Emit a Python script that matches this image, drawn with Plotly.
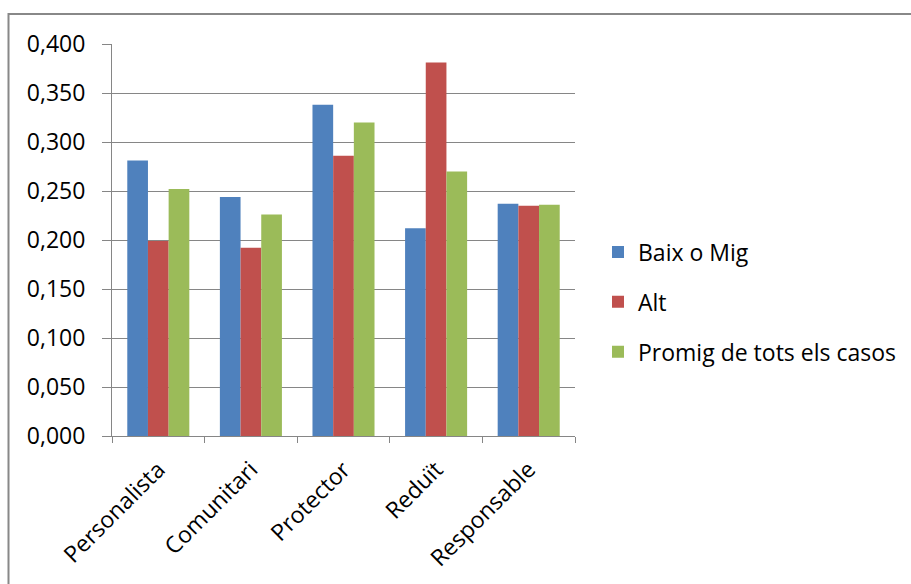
import plotly.graph_objects as go

# Category labels and series values
categories = ["Personalista", "Comunitari", "Protector", "Reduït", "Responsable"]
baix_o_mig = [0.281, 0.244, 0.338, 0.212, 0.237]
alt = [0.199, 0.192, 0.286, 0.381, 0.235]
promig = [0.252, 0.226, 0.320, 0.270, 0.236]

series_names = ["Baix o Mig", "Alt", "Promig de tots els casos"]
series_values = [baix_o_mig, alt, promig]
series_colors = ["#4F81BD", "#C0504D", "#9BBB59"]

FONT = "Open Sans"
GRID = "#868686"

W, H = 911, 584
L, R, T, B = 112, 336, 44, 148
plot_w = W - L - R
plot_h = H - T - B

fig = go.Figure()
for name, vals, col in zip(series_names, series_values, series_colors):
    fig.add_trace(go.Bar(
        x=categories, y=vals, name=name, legendgroup=name,
        marker=dict(color=col, line=dict(width=0)),
    ))

def px_x(px):
    return (px - L) / plot_w

def px_y(py):
    return (H - B - py) / plot_h

# outer chart frame (partially outside the visible page)
fig.add_shape(type="rect", xref="paper", yref="paper",
              x0=px_x(8.5), x1=px_x(960), y0=px_y(650), y1=px_y(14),
              line=dict(color="#888888", width=2), fillcolor="rgba(0,0,0,0)",
              layer="below")

fig.update_layout(
    width=W, height=H,
    margin=dict(l=L, r=R, t=T, b=B, autoexpand=False),
    paper_bgcolor="white", plot_bgcolor="white",
    separators=", ",
    barmode="group", bargap=0.33, bargroupgap=0,
    font=dict(family=FONT, size=23, color="black"),
    showlegend=True,
    legend=dict(
        x=px_x(598), y=px_y(302), xanchor="left", yanchor="middle",
        font=dict(family=FONT, size=23, color="black"),
        tracegroupgap=17, bgcolor="rgba(0,0,0,0)",
    ),
    xaxis=dict(
        type="category", tickson="boundaries", tickangle=-45,
        automargin=False,
        showline=True, linecolor=GRID, linewidth=1,
        ticks="outside", ticklen=6, tickcolor=GRID, tickwidth=1,
        ticklabelstandoff=10,
        showgrid=False, zeroline=False,
        tickfont=dict(family=FONT, size=23, color="black"),
    ),
    yaxis=dict(
        range=[0, 0.4], dtick=0.05, tick0=0, tickformat=".3f",
        automargin=False,
        showline=True, linecolor=GRID, linewidth=1,
        ticks="outside", ticklen=9, tickcolor=GRID, tickwidth=1,
        ticklabelstandoff=12,
        showgrid=True, gridcolor=GRID, gridwidth=1,
        zeroline=False,
        tickfont=dict(family=FONT, size=23, color="black"),
    ),
)

fig.write_html("out.html")
